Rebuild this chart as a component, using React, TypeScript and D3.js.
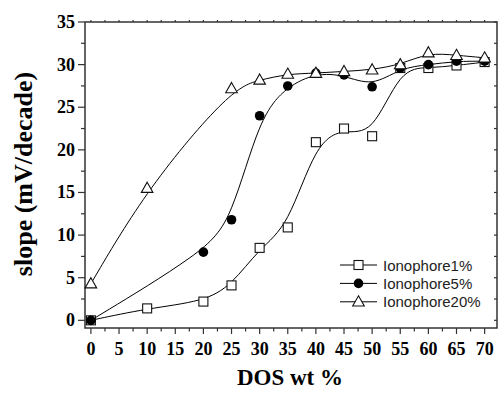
import { useEffect, useRef } from "react"
import * as d3 from "d3"

// DOS content (wt %) and electrode slope (mV/decade) per ionophore loading
const dos1 = [0, 10, 20, 25, 30, 35, 40, 45, 50, 55, 60, 65, 70]
const slope1 = [0, 1.4, 2.2, 4.1, 8.5, 10.9, 20.9, 22.5, 21.6, 29.6, 29.6, 29.9, 30.3]
const dos5 = [0, 20, 25, 30, 35, 40, 45, 50, 55, 60, 65, 70]
const slope5 = [0, 8.0, 11.8, 24.0, 27.5, 29.0, 28.8, 27.4, 29.6, 30.0, 30.4, 30.4]
const dos20 = [0, 10, 25, 30, 35, 40, 45, 50, 55, 60, 65, 70]
const slope20 = [4.3, 15.5, 27.2, 28.2, 28.9, 29.0, 29.2, 29.4, 30.0, 31.4, 31.1, 30.8]

const seriesNames = ["Ionophore1%", "Ionophore5%", "Ionophore20%"]
const xTicks = d3.range(0, 71, 5)
const yTicks = d3.range(0, 36, 5)

const W = 499, H = 394
const M = { left: 85, right: 497, top: 22, bottom: 328 }
const SERIF = "'Liberation Serif', 'Times New Roman', serif"
const SANS = "'Liberation Sans', Arial, sans-serif"
const AX = "#333"

export default function App() {
  const ref = useRef<SVGSVGElement>(null)
  useEffect(() => {
    if (!ref.current) return
    const svg = d3.select(ref.current)
    svg.selectAll("*").remove()

    const x = d3.scaleLinear().domain([-1.05, 72.2]).range([M.left, M.right])
    const y = d3.scaleLinear().domain([-0.9, 35]).range([M.bottom, M.top])

    const series = [
      { name: seriesNames[0], xs: dos1, ys: slope1, shape: "square" },
      { name: seriesNames[1], xs: dos5, ys: slope5, shape: "circle" },
      { name: seriesNames[2], xs: dos20, ys: slope20, shape: "triangle" },
    ]

    const marker = (g: any, shape: string, cx: number, cy: number) => {
      if (shape === "square") {
        g.append("rect").attr("x", cx - 4.5).attr("y", cy - 4.5).attr("width", 9).attr("height", 9)
          .attr("fill", "#fff").attr("stroke", "#111").attr("stroke-width", 1.1)
      } else if (shape === "circle") {
        g.append("circle").attr("cx", cx).attr("cy", cy).attr("r", 4.8).attr("fill", "#000")
      } else {
        g.append("path").attr("d", `M${cx},${cy - 6}L${cx + 5.8},${cy + 4.2}L${cx - 5.8},${cy + 4.2}Z`)
          .attr("fill", "#fff").attr("stroke", "#111").attr("stroke-width", 1.1)
      }
    }

    // frame
    svg.append("rect").attr("x", M.left).attr("y", M.top).attr("width", M.right - M.left).attr("height", M.bottom - M.top)
      .attr("fill", "none").attr("stroke", AX).attr("stroke-width", 1.5)

    // ticks
    const t = svg.append("g").attr("stroke", AX).attr("stroke-width", 1.2)
    d3.range(0, 71, 2.5).forEach(v => {
      const major = v % 5 === 0
      t.append("line").attr("x1", x(v)).attr("x2", x(v)).attr("y1", M.bottom).attr("y2", M.bottom + (major ? 6 : 3.5))
      t.append("line").attr("x1", x(v)).attr("x2", x(v)).attr("y1", M.top).attr("y2", M.top - 2)
    })
    d3.range(0, 35.1, 2.5).forEach(v => {
      const major = v % 5 === 0
      t.append("line").attr("y1", y(v)).attr("y2", y(v)).attr("x1", M.left).attr("x2", M.left - (major ? 7 : 4))
      t.append("line").attr("y1", y(v)).attr("y2", y(v)).attr("x1", M.right).attr("x2", M.right - 3)
    })

    svg.append("g").selectAll("text").data(xTicks).join("text")
      .attr("x", d => x(d)).attr("y", 355).attr("text-anchor", "middle")
      .style("font-family", SERIF).style("font-weight", "bold").style("font-size", "18px").text(d => d)
    svg.append("g").selectAll("text").data(yTicks).join("text")
      .attr("x", 75).attr("y", d => y(d) + 6).attr("text-anchor", "end")
      .style("font-family", SERIF).style("font-weight", "bold").style("font-size", "18px").text(d => d)

    // axis titles
    svg.append("text").attr("x", 290).attr("y", 385).attr("text-anchor", "middle")
      .style("font-family", SERIF).style("font-weight", "bold").style("font-size", "23px").text("DOS wt %")
    svg.append("text").attr("transform", "translate(32,174) rotate(-90)").attr("text-anchor", "middle")
      .style("font-family", SERIF).style("font-weight", "bold").style("font-size", "26px").text("slope (mV/decade)")

    // curves
    const line = d3.line<[number, number]>().x(d => x(d[0])).y(d => y(d[1])).curve(d3.curveBasis)
    series.forEach(s => {
      const pts = s.xs.map((v, i) => [v, s.ys[i]] as [number, number])
      svg.append("path").attr("d", line(pts)).attr("fill", "none").attr("stroke", "#000").attr("stroke-width", 1)
    })
    series.forEach(s => {
      const g = svg.append("g")
      s.xs.forEach((v, i) => marker(g, s.shape, x(v), y(s.ys[i])))
    })

    // legend
    const lg = svg.append("g")
    series.forEach((s, i) => {
      const ly = 265 + i * 18.4
      lg.append("line").attr("x1", 340).attr("x2", 377).attr("y1", ly).attr("y2", ly).attr("stroke", "#000").attr("stroke-width", 1)
      marker(lg, s.shape, 358.5, ly)
      lg.append("text").attr("x", 383).attr("y", ly + 5.5).style("font-family", SANS).style("font-size", "15px")
        .style("fill", "#222").text(s.name)
    })
  }, [])
  return <svg ref={ref} width={W} height={H} style={{ position: "absolute", left: 0, top: 0, display: "block", background: "#fff" }} />
}
